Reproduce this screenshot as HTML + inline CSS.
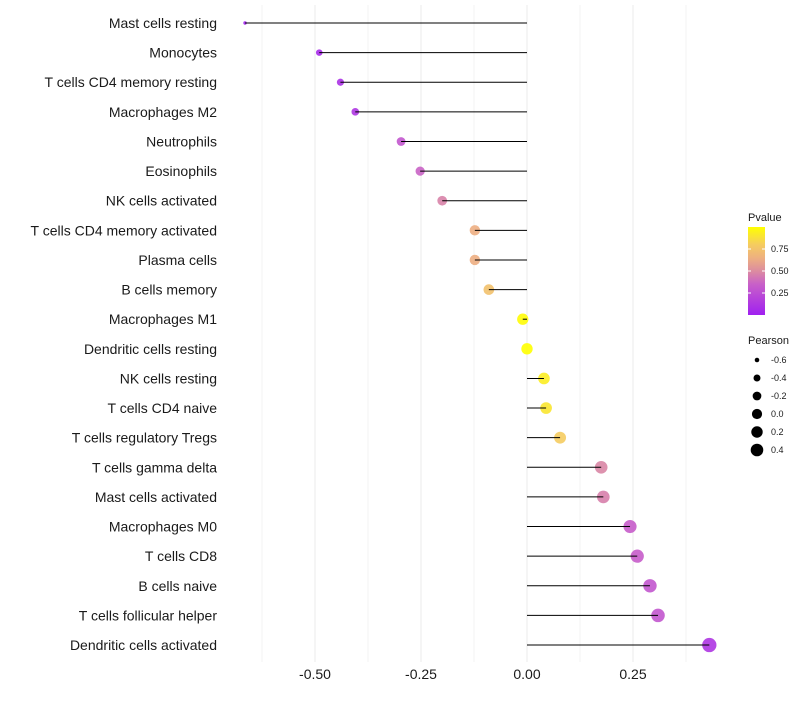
<!DOCTYPE html>
<html><head><meta charset="utf-8"><style>
body{margin:0;background:#fff;font-family:"Liberation Sans",sans-serif}
</style></head><body>
<svg width="800" height="700" xmlns="http://www.w3.org/2000/svg">
<defs><linearGradient id="pg" x1="0" y1="1" x2="0" y2="0">
<stop offset="0" stop-color="#A020F0"/><stop offset="0.35" stop-color="#C860C8"/><stop offset="0.5" stop-color="#DC8CA0"/><stop offset="0.65" stop-color="#EEB080"/><stop offset="0.8" stop-color="#F5CC60"/><stop offset="1" stop-color="#FFFF00"/></linearGradient></defs>
<g id="grid"></g>
<g id="marks"></g>
<g id="ylab" font-size="14" fill="#1a1a1a" text-anchor="end"></g>
<g id="xlab" font-size="14" fill="#1a1a1a" text-anchor="middle"></g>
<g font-size="9" fill="#1a1a1a">
<text x="748" y="221" font-size="11">Pvalue</text>
<rect x="748" y="227" width="17" height="88" fill="url(#pg)"/>
<g id="plegticks"></g>
</g>
<g id="sleg" font-size="9" fill="#1a1a1a">
<text x="748" y="344" font-size="11">Pearson</text>
</g>
</svg>
<script>
const categories=["Mast cells resting","Monocytes","T cells CD4 memory resting","Macrophages M2","Neutrophils","Eosinophils","NK cells activated","T cells CD4 memory activated","Plasma cells","B cells memory","Macrophages M1","Dendritic cells resting","NK cells resting","T cells CD4 naive","T cells regulatory  Tregs ","T cells gamma delta","Mast cells activated","Macrophages M0","T cells CD8","B cells naive","T cells follicular helper","Dendritic cells activated"];
const pearson=[-0.665,-0.49,-0.44,-0.405,-0.297,-0.252,-0.20,-0.123,-0.123,-0.09,-0.01,0.0,0.04,0.045,0.078,0.175,0.18,0.243,0.26,0.29,0.309,0.43];
const pvalues=[0.02,0.06,0.1,0.12,0.3,0.36,0.47,0.64,0.64,0.74,0.99,1.0,0.93,0.9,0.8,0.48,0.46,0.33,0.33,0.3,0.3,0.12];
const xTicks=[-0.5,-0.25,0,0.25];
const xTickLabels=["-0.50","-0.25","0.00","0.25"];
const sizeLegend=[-0.6,-0.4,-0.2,0.0,0.2,0.4];
const pTicks=[0.25,0.5,0.75];
const NS="http://www.w3.org/2000/svg";
const x=v=>527+v*424, y=i=>23+i*29.62;
const r=v=>Math.sqrt(Math.max(1,3+44*(v+0.665)));
const rl=v=>Math.sqrt(Math.max(0.5,25.9+34.4*v));
const ps=y0=>315-88*y0;
const stops=[[0,[160,32,240]],[0.35,[200,96,200]],[0.5,[220,140,160]],[0.65,[238,176,128]],[0.8,[245,204,96]],[1,[255,255,0]]];
function col(p){for(let k=1;k<stops.length;k++){if(p<=stops[k][0]){const [p0,a]=stops[k-1],[p1,b]=stops[k];const t=(p-p0)/(p1-p0);
return `rgb(${a.map((v,j)=>Math.round(v+(b[j]-v)*t)).join(',')})`;}}return 'rgb(255,255,0)';}
function mk(tag,at,par){const el=document.createElementNS(NS,tag);for(const k in at)el.setAttribute(k,at[k]);document.getElementById(par).appendChild(el);return el;}
for(let g=-0.625;g<=0.4;g+=0.125){const l=mk('line',{x1:x(g),x2:x(g),y1:5,y2:662,stroke:'#ebebeb','stroke-width':Math.abs(g*4-Math.round(g*4))<1e-6?1:0.6},'grid');

}
categories.forEach((c,i)=>{
const p=mk('circle',{cx:x(pearson[i]),cy:y(i),r:r(pearson[i]),fill:col(pvalues[i]),'fill-opacity':0.9},'marks');


const s=mk('line',{x1:x(0),x2:x(pearson[i]),y1:y(i),y2:y(i),stroke:'#000','stroke-width':1},'marks');


const t=mk('text',{x:217,y:y(i)+5},'ylab');t.textContent=c;


});
xTicks.forEach((v,i)=>{const t=mk('text',{x:x(v),y:679},'xlab');t.textContent=xTickLabels[i];

});
pTicks.forEach(v=>{mk('line',{x1:748,x2:751,y1:ps(v),y2:ps(v),stroke:'#fff'},'plegticks');mk('line',{x1:762,x2:765,y1:ps(v),y2:ps(v),stroke:'#fff'},'plegticks');
const t=mk('text',{x:771,y:ps(v)+3},'plegticks');t.textContent=v.toFixed(2);

});
sizeLegend.forEach((v,i)=>{const cy=360+i*18;mk('circle',{cx:757,cy:cy,r:rl(v),fill:'#000'},'sleg');
const t=mk('text',{x:771,y:cy+3},'sleg');t.textContent=v.toFixed(1);

});
</script>
</body></html>
